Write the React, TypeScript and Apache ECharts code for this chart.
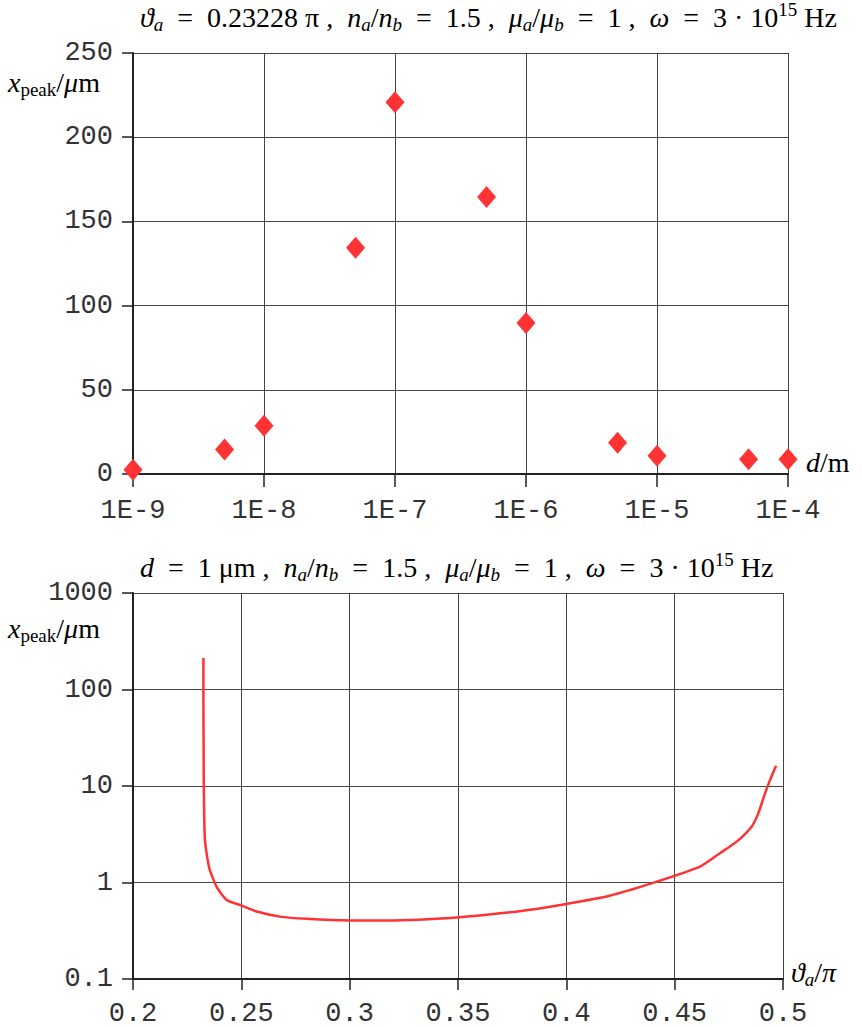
import React, { useEffect, useRef } from "react";
import * as echarts from "echarts";

// Top chart: d (m) vs x_peak (µm)
const dValues = [1e-9, 5e-9, 1e-8, 5e-8, 1e-7, 5e-7, 1e-6, 5e-6, 1e-5, 5e-5, 1e-4];
const xPeakTop = [2.5, 14.5, 28.7, 134.3, 220.8, 164.5, 89.7, 18.6, 10.8, 8.8, 8.8];
const topYTicks = [0, 50, 100, 150, 200, 250];

// Bottom chart: theta_a/pi vs x_peak (µm)
const thetaValues = [0.2325, 0.2325, 0.2326, 0.2327, 0.2332, 0.2352, 0.2386, 0.2432, 0.2494, 0.2571, 0.2678, 0.28, 0.30, 0.32, 0.34, 0.36, 0.38, 0.40, 0.42, 0.44, 0.4617, 0.4709, 0.4786, 0.4855, 0.4886, 0.4917, 0.494, 0.4968];
const xPeakBottom = [212, 78, 24, 9.1, 2.76, 1.41, 0.9, 0.66, 0.585, 0.5, 0.443, 0.42, 0.405, 0.405, 0.42, 0.455, 0.51, 0.6, 0.73, 0.99, 1.46, 2.01, 2.65, 3.79, 5.2, 8.4, 11.5, 16.2];

const RED = "#ff3333";
const MONO = "'Liberation Mono', 'DejaVu Sans Mono', monospace";
const SERIF = "'Liberation Serif', 'DejaVu Serif', serif";
const INK = "#111";
const EQ = "\u2002=\u2002";

const baseRich = {
  r: { fontFamily: SERIF, fontSize: 28, lineHeight: 34, color: INK },
  i: { fontFamily: SERIF, fontSize: 28, lineHeight: 34, fontStyle: "italic", color: INK },
  sub: { fontFamily: SERIF, fontSize: 19, lineHeight: 19, verticalAlign: "bottom", fontStyle: "italic", color: INK },
  subr: { fontFamily: SERIF, fontSize: 19, lineHeight: 19, verticalAlign: "bottom", color: INK },
  sup: { fontFamily: SERIF, fontSize: 19, lineHeight: 16, verticalAlign: "top", color: INK },
};

export default function App() {
  const ref = useRef<HTMLDivElement>(null);
  useEffect(() => {
    document.body.style.margin = "0";
    const chart = echarts.init(ref.current!, null, { renderer: "svg" });
    const axisLineStyle = { color: "#222", width: 2 };
    const splitLineStyle = { color: "#444", width: 1 };
    const labelStyle = { fontFamily: MONO, fontSize: 27, color: "#333" };
    const fmtNum = (v: number) => String(parseFloat(v.toPrecision(6)));

    chart.setOption({
      animation: false,
      backgroundColor: "#fff",
      grid: [
        { left: 133, top: 53, width: 655, height: 421 },
        { left: 133, top: 593, width: 650, height: 386 },
      ],
      xAxis: [
        {
          gridIndex: 0,
          type: "log",
          logBase: 10,
          min: 1e-9,
          max: 1e-4,
          splitNumber: 5,
          axisLine: { show: true, lineStyle: axisLineStyle },
          axisTick: { show: true, length: 13, lineStyle: { color: "#222", width: 1.5 } },
          axisLabel: {
            ...labelStyle,
            margin: 23,
            formatter: (v: number) => "1E" + Math.round(Math.log10(v)),
          },
          splitLine: { show: true, lineStyle: splitLineStyle },
          minorTick: { show: false },
        },
        {
          gridIndex: 1,
          type: "value",
          min: 0.2,
          max: 0.5,
          interval: 0.05,
          axisLine: { show: true, lineStyle: axisLineStyle },
          axisTick: { show: true, length: 11, lineStyle: { color: "#222", width: 1.5 } },
          axisLabel: { ...labelStyle, margin: 21, formatter: fmtNum },
          splitLine: { show: true, lineStyle: splitLineStyle },
        },
      ],
      yAxis: [
        {
          gridIndex: 0,
          type: "value",
          min: topYTicks[0],
          max: topYTicks[topYTicks.length - 1],
          interval: 50,
          axisLine: { show: true, lineStyle: axisLineStyle },
          axisTick: { show: true, length: 11, lineStyle: { color: "#222", width: 1.5 } },
          axisLabel: { ...labelStyle, margin: 20 },
          splitLine: { show: true, lineStyle: splitLineStyle },
        },
        {
          gridIndex: 1,
          type: "log",
          logBase: 10,
          min: 0.1,
          max: 1000,
          splitNumber: 4,
          axisLine: { show: true, lineStyle: axisLineStyle },
          axisTick: { show: true, length: 11, lineStyle: { color: "#222", width: 1.5 } },
          axisLabel: { ...labelStyle, margin: 20, formatter: fmtNum },
          splitLine: { show: true, lineStyle: splitLineStyle },
          minorTick: { show: false },
        },
      ],
      series: [
        {
          type: "scatter",
          xAxisIndex: 0,
          yAxisIndex: 0,
          symbol: "diamond",
          symbolSize: [19, 22],
          itemStyle: { color: RED, opacity: 1 },
          data: dValues.map((d, i) => [d, xPeakTop[i]]),
          clip: false,
        },
        {
          type: "line",
          xAxisIndex: 1,
          yAxisIndex: 1,
          showSymbol: false,
          smooth: 0.2,
          lineStyle: { color: RED, width: 2.5 },
          data: thetaValues.map((t, i) => [t, xPeakBottom[i]]),
        },
      ],
      graphic: [
        {
          type: "text",
          left: 140,
          top: 0,
          style: {
            text:
              `{i|ϑ}{sub|a}{r|${EQ}0.23228 π ,  }{i|n}{sub|a}{r|/}{i|n}{sub|b}{r|${EQ}1.5 ,  }{i|μ}{sub|a}{r|/}{i|μ}{sub|b}{r|${EQ}1 ,  }{i|ω}{r|${EQ}3 · 10}{sup|15}{r| Hz}`,
            rich: baseRich,
          },
        },
        {
          type: "text",
          left: 140,
          top: 550,
          style: {
            text:
              `{i|d}{r|${EQ}1 μm ,  }{i|n}{sub|a}{r|/}{i|n}{sub|b}{r|${EQ}1.5 ,  }{i|μ}{sub|a}{r|/}{i|μ}{sub|b}{r|${EQ}1 ,  }{i|ω}{r|${EQ}3 · 10}{sup|15}{r| Hz}`,
            rich: baseRich,
          },
        },
        {
          type: "text",
          left: 8,
          top: 68,
          style: { text: "{i|x}{subr|peak}{r|/}{i|μ}{r|m}", rich: baseRich },
        },
        {
          type: "text",
          left: 8,
          top: 614,
          style: { text: "{i|x}{subr|peak}{r|/}{i|μ}{r|m}", rich: baseRich },
        },
        {
          type: "text",
          left: 806,
          top: 448,
          style: { text: "{i|d}{r|/m}", rich: baseRich },
        },
        {
          type: "text",
          left: 791,
          top: 958,
          style: { text: "{i|ϑ}{sub|a}{r|/}{i|π}", rich: baseRich },
        },
      ],
    });
    return () => chart.dispose();
  }, []);
  return <div ref={ref} style={{ width: 862, height: 1027 }} />;
}
